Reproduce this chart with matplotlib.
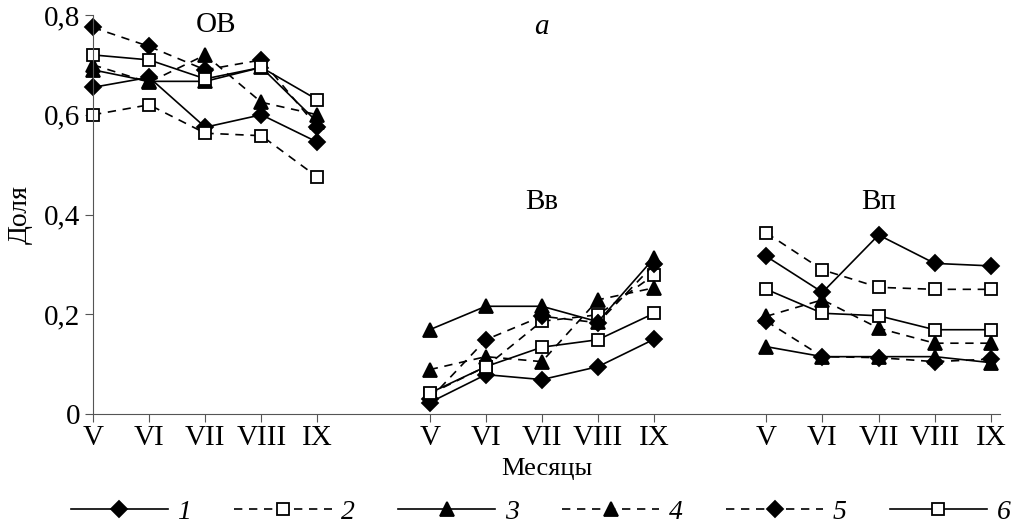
import numpy as np
import matplotlib.pyplot as plt
from matplotlib.lines import Line2D

plt.rcParams['font.family'] = ['Liberation Serif', 'DejaVu Serif']

# Месяцы и группы
months = ['V', 'VI', 'VII', 'VIII', 'IX']
groups = ['OB', 'Вв', 'Вп']
yticks = [0, 0.2, 0.4, 0.6, 0.8]
ytick_labels = ['0', '0,2', '0,4', '0,6', '0,8']

# Значения рядов 1..6 по группам (OB, Вв, Вп)
s1 = [[0.655, 0.675, 0.575, 0.600, 0.545],
      [0.023, 0.079, 0.069, 0.095, 0.150],
      [0.316, 0.244, 0.359, 0.302, 0.297]]
s2 = [[0.600, 0.620, 0.563, 0.558, 0.475],
      [0.040, 0.095, 0.186, 0.199, 0.279],
      [0.363, 0.289, 0.254, 0.250, 0.250]]
s3 = [[0.690, 0.667, 0.667, 0.695, 0.585],
      [0.169, 0.216, 0.216, 0.185, 0.313],
      [0.135, 0.115, 0.115, 0.115, 0.103]]
s4 = [[0.700, 0.665, 0.720, 0.625, 0.600],
      [0.089, 0.115, 0.105, 0.229, 0.253],
      [0.196, 0.229, 0.172, 0.142, 0.142]]
s5 = [[0.775, 0.737, 0.690, 0.710, 0.575],
      [0.030, 0.149, 0.196, 0.183, 0.300],
      [0.186, 0.115, 0.113, 0.105, 0.110]]
s6 = [[0.720, 0.710, 0.672, 0.695, 0.630],
      [0.042, 0.095, 0.134, 0.149, 0.202],
      [0.250, 0.202, 0.197, 0.169, 0.169]]

series = [s1, s2, s3, s4, s5, s6]
names = ['1', '2', '3', '4', '5', '6']
styles = [('-', 'D', 'black'), ('--', 's', 'white'), ('-', '^', 'black'),
          ('--', '^', 'black'), ('--', 'D', 'black'), ('-', 's', 'white')]
msize = {'D': 8, 's': 9, '^': 10}

fig = plt.figure(figsize=(10.2, 5.25), dpi=100)
ax = fig.add_axes([0.0912, 0.2114, 0.889, 0.76])

# позиции: 0-4, 6-10, 12-16
xpos = [np.arange(5) + 6 * g for g in range(3)]

for data, (ls, mk, fc) in zip(series, styles):
    for g in range(3):
        ax.plot(xpos[g], data[g], linestyle=ls, marker=mk, color='black',
                markerfacecolor=fc, markeredgecolor='black', markersize=msize[mk],
                markeredgewidth=1.3, linewidth=1.2,
                dashes=(5, 4) if ls == '--' else (None, None), clip_on=False)

ax.set_xlim(0, 16.16)
ax.set_ylim(0, 0.8)
ax.set_yticks(yticks)
ax.set_yticklabels(ytick_labels, fontsize=21)
ax.set_xticks(np.concatenate(xpos))
ax.set_xticklabels(months * 3, fontsize=21)
ax.tick_params(axis='both', direction='out', length=6, color='#555555')
ax.tick_params(axis='y', pad=3)
ax.tick_params(axis='x', pad=2)
for side in ['top', 'right']:
    ax.spines[side].set_visible(False)
for side in ['left', 'bottom']:
    ax.spines[side].set_color('#555555')

ax.set_ylabel('Доля', fontsize=20, labelpad=8)
ax.set_xlabel('Месяцы', fontsize=19, labelpad=5)

# подписи групп
label_pos = [(2.2, 0.78), (8.0, 0.425), (14.0, 0.425)]
for name, (lx, ly) in zip(groups, label_pos):
    ax.text(lx, ly, name, fontsize=21, ha='center', va='center')
ax.text(8.0, 0.775, 'a', fontsize=21, style='italic', ha='center', va='center')

handles = []
for (ls, mk, fc) in styles:
    handles.append(Line2D([], [], linestyle=ls, marker=mk, color='black',
                          markerfacecolor=fc, markersize=msize[mk],
                          markeredgewidth=1.3, linewidth=1.2,
                          dashes=(5, 4) if ls == '--' else (None, None)))
leg = fig.legend(handles, names, loc='center', ncol=6, frameon=False,
                 handlelength=3.5, columnspacing=1.55, handletextpad=0.35,
                 bbox_to_anchor=(0.53, 0.025), prop={'size': 20, 'style': 'italic'})

fig.savefig('out.png', dpi=100)
